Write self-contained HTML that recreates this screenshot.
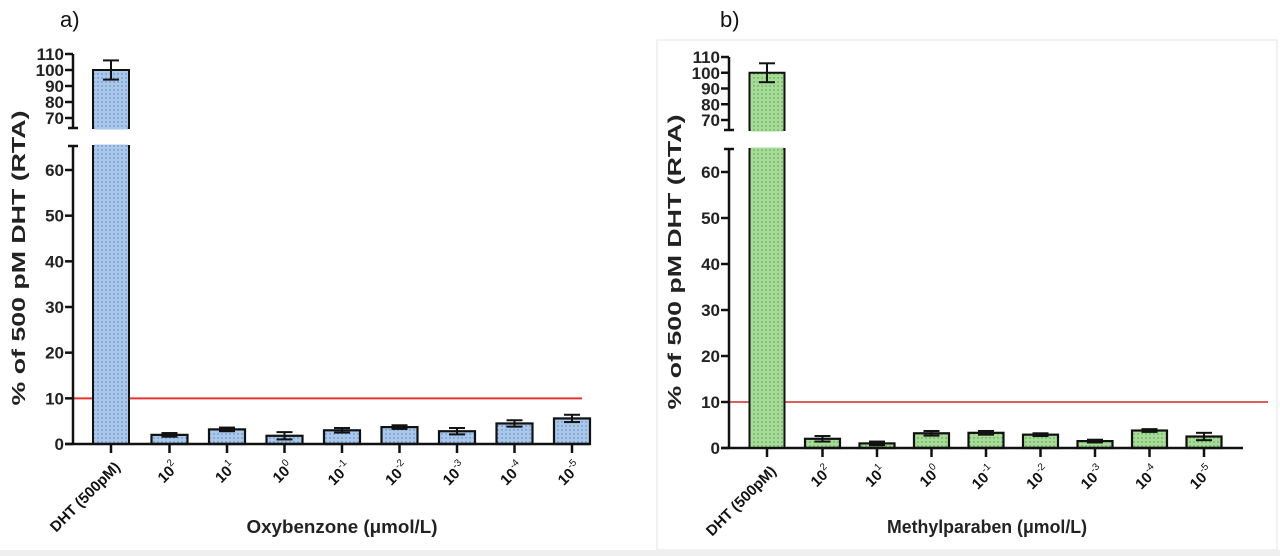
<!DOCTYPE html>
<html><head><meta charset="utf-8"><style>
html,body{margin:0;padding:0;background:#fff;}
svg{display:block;font-family:"Liberation Sans",Arial,sans-serif;}
</style></head><body>
<svg id="chart" width="1280" height="556" viewBox="0 0 1280 556" xmlns="http://www.w3.org/2000/svg">
<defs>
<pattern id="dotsBlue" width="4" height="4" patternUnits="userSpaceOnUse"><rect width="4" height="4" fill="#a9c8ec"/><circle cx="2" cy="2" r="0.7" fill="#5a7fb0"/></pattern>
<pattern id="dotsGreen" width="4" height="4" patternUnits="userSpaceOnUse"><rect width="4" height="4" fill="#a6dc98"/><circle cx="2" cy="2" r="0.7" fill="#4f9a45"/></pattern>
</defs>
<rect x="657" y="40" width="620" height="510" fill="none" stroke="#e4e4e4" stroke-width="1"/>
<rect x="0" y="550" width="1280" height="6" fill="#efefef"/>
<g id="root"></g>
</svg>
<script>
const categories = ["DHT (500pM)","10^2","10^1","10^0","10^-1","10^-2","10^-3","10^-4","10^-5"];
const oxyValues = [100, 2.0, 3.2, 1.8, 3.0, 3.7, 2.8, 4.5, 5.6];
const oxyErrors = [6, 0.4, 0.4, 0.8, 0.5, 0.4, 0.7, 0.7, 0.8];
const metValues = [100, 2.0, 1.0, 3.2, 3.3, 2.9, 1.5, 3.8, 2.5];
const metErrors = [6, 0.6, 0.4, 0.5, 0.4, 0.3, 0.3, 0.3, 0.8];
const lowerTicks = [0,10,20,30,40,50,60];
const upperTicks = [70,80,90,100,110];
const threshold = 10;

const NS = "http://www.w3.org/2000/svg";
const root = document.getElementById('root');
function mk(tag, attrs, parent){const e=document.createElementNS(NS,tag);for(const k in attrs)e.setAttribute(k,attrs[k]);(parent||root).appendChild(e);return e;}

function panel(p){
  const g = mk('g',{});
  
  
  const yLow = v => p.y0 - v*(p.y0-p.y60)/60;
  const yUp = v => p.y110 + (110-v)*(p.y70-p.y110)/40;
  const y = v => v>65 ? yUp(v) : yLow(v);
  const xc = i => p.x0 + i*p.step + (i>0 ? p.gap : 0);
  const lt = mk('text',{x:p.letterX,y:27,'font-size':22,fill:'#111'},g); lt.textContent=p.letter;
   
  const rl = mk('line',{x1:p.ax,x2:p.redEnd,y1:yLow(threshold),y2:yLow(threshold),stroke:p.red,'stroke-width':2},g);
   
  p.values.forEach((v,i)=>{
    const cx = xc(i), w = p.bw;
    const bg = mk('g',{},g);
     
    if(v>65){
      mk('rect',{x:cx-w/2,y:y(v),width:w,height:p.y70b-y(v),fill:p.fill,stroke:'#111','stroke-width':2},bg);
      mk('rect',{x:cx-w/2,y:p.lowTop,width:w,height:yLow(0)-p.lowTop,fill:p.fill,stroke:'#111','stroke-width':2},bg);
      mk('rect',{x:cx-w/2+1.2,y:p.lowTop-1.5,width:w-2.4,height:3,fill:p.fill},bg);
      mk('rect',{x:cx-w/2+1.2,y:p.y70b-1.5,width:w-2.4,height:3,fill:p.fill},bg);
    } else {
      mk('rect',{x:cx-w/2,y:y(v),width:w,height:yLow(0)-y(v),fill:p.fill,stroke:'#111','stroke-width':2.2},bg);
    }
    const e = p.errors[i];
    const eb = mk('g',{stroke:'#111','stroke-width':2},g);
     
    mk('line',{x1:cx,x2:cx,y1:y(v+e),y2:y(v-e)},eb);
    mk('line',{x1:cx-8,x2:cx+8,y1:y(v+e),y2:y(v+e)},eb);
    mk('line',{x1:cx-8,x2:cx+8,y1:y(v-e),y2:y(v-e)},eb);
    mk('line',{x1:cx,x2:cx,y1:yLow(0),y2:yLow(0)+9,stroke:'#111','stroke-width':2.5},g);
    const lbl = mk('text',{transform:`translate(${cx+10},${yLow(0)+24}) rotate(-45)`,'text-anchor':'end','font-size':15,'font-weight':'bold',fill:'#111'},g);
     
    const c = categories[i];
    if(c.startsWith('10^')){
      const t1=mk('tspan',{},lbl); t1.textContent='10';
      const t2=mk('tspan',{dy:-7,'font-size':10,'font-weight':'normal'},lbl); t2.textContent=c.slice(3);
    } else lbl.textContent=c;
  });
  const ax = mk('g',{stroke:'#111','stroke-width':2.5,fill:'none'},g);
   
  mk('line',{x1:p.ax,x2:p.ax,y1:yLow(0),y2:p.lowTop},ax);
  mk('line',{x1:p.ax-5,x2:p.ax+5,y1:p.lowTop,y2:p.lowTop},ax);
  mk('line',{x1:p.ax,x2:p.ax,y1:p.y70b,y2:p.y110},ax);
  mk('line',{x1:p.ax-5,x2:p.ax+5,y1:p.y70b,y2:p.y70b},ax);
  const xa = mk('line',{x1:p.ax-8,x2:p.xEnd,y1:yLow(0),y2:yLow(0),stroke:'#111','stroke-width':2.5},g);
   
  lowerTicks.forEach(t=>{
    mk('line',{x1:p.ax-8,x2:p.ax,y1:yLow(t),y2:yLow(t)},ax);
    const tl=mk('text',{x:p.ax-9,y:yLow(t)+6,'text-anchor':'end','font-size':17,'font-weight':'bold',fill:'#222',stroke:'none'},g);
    tl.textContent=t;  
  });
  upperTicks.forEach(t=>{
    mk('line',{x1:p.ax-8,x2:p.ax,y1:yUp(t),y2:yUp(t)},ax);
    const tl=mk('text',{x:p.ax-9,y:yUp(t)+6,'text-anchor':'end','font-size':17,'font-weight':'bold',fill:'#222',stroke:'none'},g);
    tl.textContent=t;  
  });
  const yt = mk('text',{transform:`translate(${p.ax-48},${p.yTitleY}) rotate(-90)`,'text-anchor':'middle','font-size':18,'font-weight':'bold',fill:'#222',textLength:295,lengthAdjust:'spacingAndGlyphs'},g);
  yt.textContent='% of 500 pM DHT (RTA)';  
  const xt = mk('text',{x:p.xTitleX,y:p.xTitleY,'text-anchor':'middle','font-size':18,'font-weight':'bold',fill:'#222',textLength:p.xTitleLen,lengthAdjust:'spacingAndGlyphs'},g);
  xt.textContent=p.xTitle;  
}

panel({name:'panel-a-oxybenzone',letter:'a)',letterX:60,ax:73,y0:444,y60:170,y110:54,y70:118,y70b:128,lowTop:146,
  x0:111,step:57.5,gap:1,bw:36,redEnd:582,xEnd:590,red:'#e8332c',fill:'url(#dotsBlue)',
  values:oxyValues,errors:oxyErrors,xTitle:'Oxybenzone (\u03bcmol/L)',xTitleX:342,xTitleY:533,xTitleLen:191,yTitleY:258});
panel({name:'panel-b-methylparaben',letter:'b)',letterX:720,ax:729,y0:448,y60:172,y110:57,y70:120,y70b:130,lowTop:149,
  x0:767,step:54.5,gap:1,bw:35,redEnd:1268,xEnd:1243,red:'#d9605a',fill:'url(#dotsGreen)',
  values:metValues,errors:metErrors,xTitle:'Methylparaben (\u03bcmol/L)',xTitleX:987,xTitleY:533,xTitleLen:200,yTitleY:262});
</script>
</body></html>
